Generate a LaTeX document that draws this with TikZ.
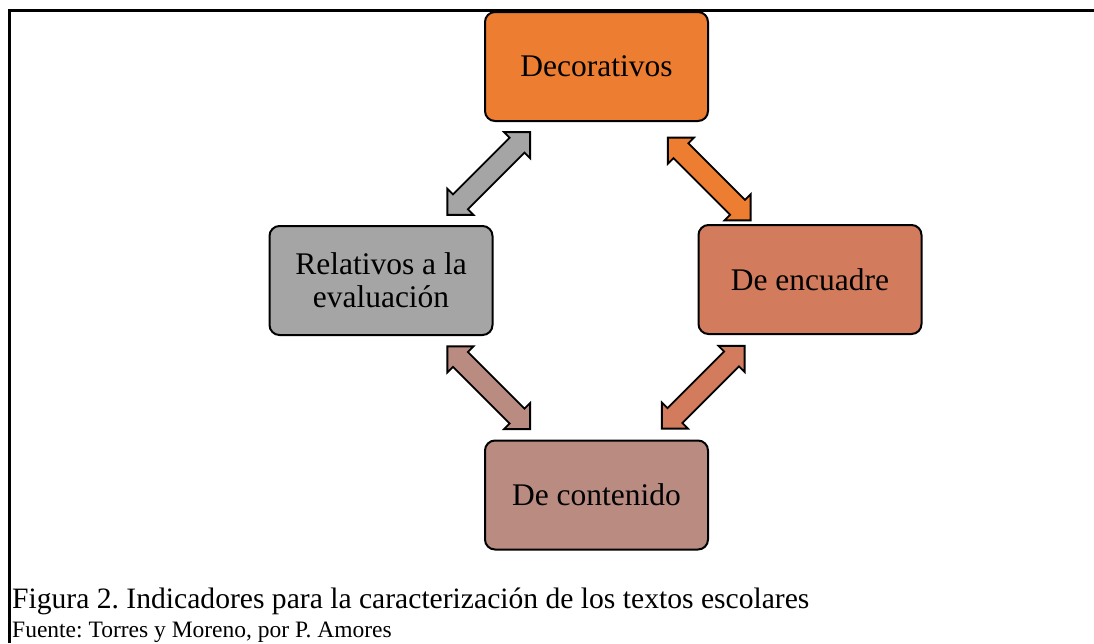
\documentclass[tikz,border=0pt]{standalone}
\usepackage{fontspec}
\setmainfont{Liberation Serif}
\usetikzlibrary{calc}
\definecolor{cdec}{HTML}{ED7D31}
\definecolor{crel}{HTML}{A5A5A5}
\definecolor{cenc}{HTML}{D27B5D}
\definecolor{ccon}{HTML}{BA8C81}
\frenchspacing
\begin{document}
\begin{tikzpicture}[x=1pt,y=-1pt,
  box/.style={draw=black, line width=2pt, rounded corners=10pt, minimum width=223pt, minimum height=109pt, align=center, font=\fontsize{31.5}{33}\selectfont, inner sep=0pt},
  blockarrow/.style={draw=black, line width=1.8pt, line join=miter},
  caption/.style={anchor=base west, inner sep=0pt}]
\useasboundingbox (0,0) rectangle (1094,643);
% frame
\draw[line width=3pt] (9.5,643) -- (9.5,10.5) -- (1094,10.5);
% boxes
\node[box, fill=cdec] (dec) at (596.5,66.5) {Decorativos};
\node[box, fill=crel] (rel) at (381,280.5) {Relativos a la\\evaluación};
\node[box, fill=cenc] (enc) at (810,279.5) {De encuadre};
\node[box, fill=ccon] (con) at (596.5,495) {De contenido};
% block arrows
\def\arrowpoly{(-58.5,0) -- (-40,18.5) -- (-40,10.5) -- (40,10.5) -- (40,18.5) -- (58.5,0) -- (40,-18.5) -- (40,-10.5) -- (-40,-10.5) -- (-40,-18.5) -- cycle}
\begin{scope}[shift={($(dec)!0.5!(rel)$)}, rotate=45]
  \draw[blockarrow, fill=crel] \arrowpoly;
\end{scope}
\begin{scope}[shift={($(dec)!0.5!(enc)+(6,6)$)}, rotate=-45]
  \draw[blockarrow, fill=cdec] \arrowpoly;
\end{scope}
\begin{scope}[shift={($(rel)!0.5!(con)$)}, rotate=-45]
  \draw[blockarrow, fill=ccon] \arrowpoly;
\end{scope}
\begin{scope}[shift={($(enc)!0.5!(con)$)}, rotate=45]
  \draw[blockarrow, fill=cenc] \arrowpoly;
\end{scope}
% caption
\node[caption, font=\fontsize{29.6}{32}\selectfont] (cap1) at (12,608) {Figura 2. Indicadores para la caracterización de los textos escolares};
\node[caption, font=\fontsize{23.5}{26}\selectfont] (cap2) at (12,637) {Fuente: Torres y Moreno, por P. Amores};
\end{tikzpicture}
\end{document}
